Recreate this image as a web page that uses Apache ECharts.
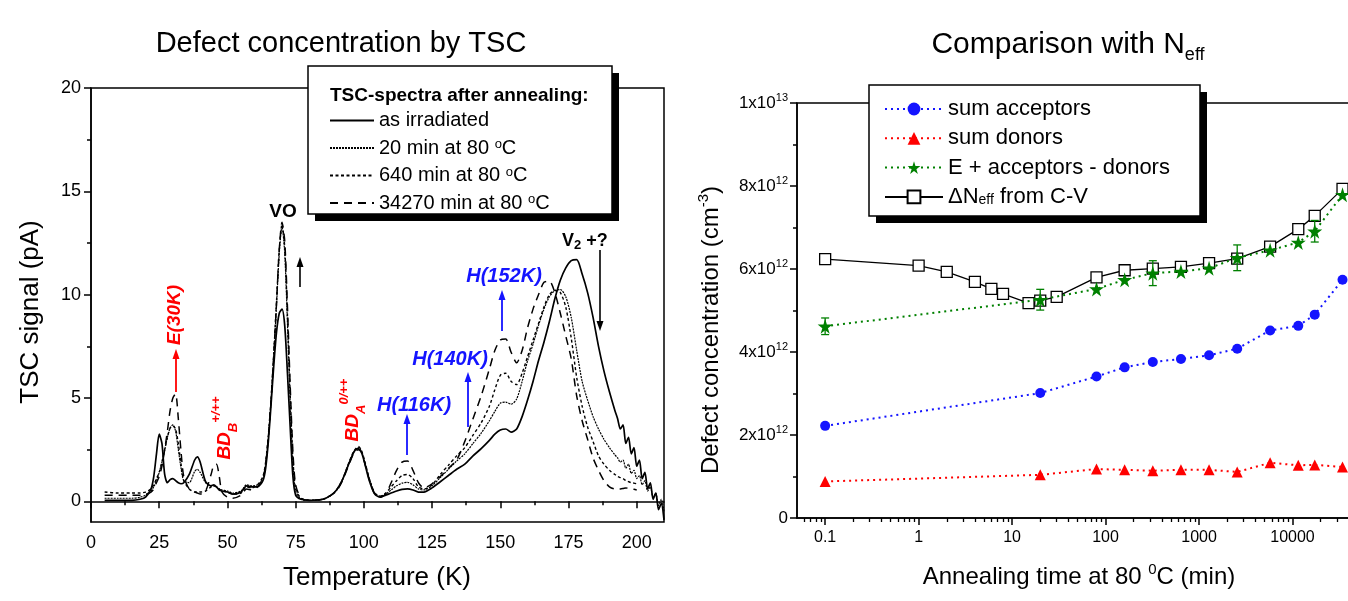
<!DOCTYPE html>
<html><head><meta charset="utf-8">
<script src="https://cdn.jsdelivr.net/npm/echarts@6/dist/echarts.min.js"></script>
<style>html,body{margin:0;padding:0;background:#fff}#c{width:1348px;height:601px}</style>
</head><body><div id="c"></div>
<script>
// ---------- Left chart data: TSC spectra ----------
const temps = [5,10,15,18,20,22,23,24,25,26,27,28,29,30,31,32,33,34,
  36,38,39,40,42,44,45,46,47,48,50,52,55,57,59,61,
  63,64,65,66,67,68,69,70,71,72,73,74,75,77,
  80,85,88,90,92,94,96,97,98,99,100,102,104,106,
  108,110,112,114,116,118,120,122,125,128,131,134,137,140,143,146,
  148,150,152,154,156,158,160,162,164,166,168,170,172,174,176,178,180,182,184,186,188,190,192,
  193,194,195,196,197,198,199,200,201,202,203,204,205,206,207,208,209,210];
const asIrradiated = [0.05,0.05,0.05,0.1,0.2,0.6,1.2,2.3,3.25,2.8,1.3,0.9,1.05,1.1,1.0,0.9,0.85,0.9,
  1.3,2.0,2.15,1.9,0.95,0.75,0.8,0.7,0.55,0.5,0.45,0.35,0.45,0.75,0.7,0.7,
  1.0,1.6,2.9,4.7,6.6,8.2,9.1,9.3,8.5,6.2,3.6,1.2,0.3,0.1,
  0.05,0.1,0.3,0.55,1.0,1.65,2.3,2.5,2.55,2.4,2.0,1.0,0.35,0.2,
  0.3,0.4,0.5,0.58,0.6,0.55,0.45,0.45,0.65,0.95,1.25,1.55,1.8,2.2,2.55,2.95,
  3.25,3.45,3.5,3.35,3.5,4.1,4.9,5.8,6.8,7.7,8.7,9.8,10.7,11.3,11.65,11.7,11.0,10.1,8.9,7.5,6.3,5.3,4.4,
  4.0,3.5,3.7,2.8,3.1,2.3,2.6,1.7,2.0,1.1,1.4,0.6,0.9,0.1,0.4,-0.4,-0.1,-0.9];
const min20 = [0.15,0.15,0.15,0.2,0.3,0.5,0.7,1.0,1.4,1.9,2.5,3.1,3.55,3.7,3.4,2.5,1.6,1.0,
  0.9,1.45,1.55,1.4,0.9,0.75,0.75,0.7,0.6,0.55,0.5,0.4,0.5,0.8,0.75,0.8,
  1.1,1.8,3.1,4.9,7.1,9.5,12.0,13.3,12.0,8.6,4.8,1.8,0.5,0.1,
  0.05,0.1,0.3,0.55,1.0,1.65,2.3,2.5,2.6,2.45,2.05,1.1,0.4,0.25,
  0.35,0.55,0.75,0.88,0.92,0.8,0.6,0.55,0.75,1.15,1.55,1.95,2.3,2.8,3.3,3.9,
  4.35,4.75,4.8,4.7,4.95,5.8,6.8,7.6,8.5,9.3,9.9,10.2,10.25,9.9,8.9,7.3,5.8,4.9,4.1,3.5,3.0,2.6,2.25,
  2.1,1.9,2.0,1.6,1.8,1.35,1.5,1.1,1.25,0.8,1.0,0.5,0.7,0.2,0.4,-0.2,0.1,-0.5];
const min640 = [0.45,0.4,0.4,0.4,0.45,0.6,0.8,1.1,1.4,1.9,2.5,3.1,3.55,3.65,3.5,2.8,1.8,1.0,
  0.6,0.45,0.45,0.45,0.5,0.7,0.75,0.7,0.6,0.5,0.45,0.35,0.4,0.7,0.65,0.8,
  1.2,1.9,3.2,5.0,7.2,9.7,12.2,13.4,12.3,9.0,5.2,2.1,0.6,0.15,
  0.05,0.1,0.3,0.55,1.0,1.7,2.35,2.55,2.65,2.5,2.1,1.1,0.4,0.25,
  0.4,0.7,1.0,1.25,1.3,1.1,0.7,0.6,0.8,1.3,1.75,2.2,2.6,3.2,3.8,4.6,
  5.4,6.1,6.2,5.8,5.65,6.2,7.0,7.8,8.6,9.4,10.0,10.2,10.1,9.4,7.9,6.0,4.6,3.6,2.9,2.2,1.8,1.5,1.3,
  1.2,1.15,1.1,1.0,0.95,0.9,0.88,0.85,null,null,null,null,null,null,null,null,null,null];
const min34270 = [0.3,0.3,0.3,0.3,0.35,0.45,0.6,0.9,1.2,1.7,2.5,3.4,4.4,5.0,5.2,4.0,2.4,1.2,
  0.6,0.45,0.4,0.35,0.5,1.3,1.75,1.8,1.2,0.45,0.2,0.15,0.3,0.6,0.55,0.7,
  1.1,1.8,3.1,4.9,7.1,9.6,12.2,13.5,12.6,9.4,5.6,2.4,0.8,0.15,
  0.05,0.1,0.3,0.5,0.95,1.6,2.25,2.45,2.5,2.4,2.0,1.05,0.35,0.2,
  0.35,0.9,1.5,1.9,1.95,1.5,0.9,0.65,0.85,1.2,1.6,2.0,2.9,4.0,5.1,6.4,
  7.3,7.8,7.85,7.2,6.7,7.3,8.4,9.3,10.0,10.6,10.65,10.1,9.1,8.0,6.9,5.1,3.9,3.0,2.1,1.5,1.0,0.7,0.6,
  0.6,0.6,0.62,0.65,0.63,0.6,0.58,0.55,null,null,null,null,null,null,null,null,null,null];
const tscNames = ['as irradiated','20 min at 80 °C','640 min at 80 °C','34270 min at 80 °C'];
const tempTicks = [0,25,50,75,100,125,150,175,200];
const tempMinorTicks = [12.5,37.5,62.5,87.5,112.5,137.5,162.5,187.5];
const tscTicks = [0,5,10,15,20];
const tscMinorTicks = [2.5,7.5,12.5,17.5];

// ---------- Right chart data (values in units of 1e12 cm^-3) ----------
const neffTimes = [0.1,1,2,4,6,8,15,20,30,80,160,320,640,1280,2560,5760,11520,17280,34270];
const deltaNeff = [6.24,6.08,5.93,5.69,5.52,5.40,5.18,5.24,5.33,5.80,5.97,6.01,6.05,6.14,6.25,6.54,6.96,7.28,7.93];
const tscTimes = [0.1,20,80,160,320,640,1280,2560,5760,11520,17280,34270];
const sumAcceptors = [2.22,3.01,3.41,3.63,3.76,3.83,3.92,4.08,4.52,4.63,4.90,5.74];
const sumDonors = [0.88,1.04,1.18,1.16,1.14,1.16,1.16,1.11,1.33,1.27,1.28,1.23];
const eAccDon = [4.62,5.26,5.52,5.74,5.90,5.94,6.02,6.27,6.45,6.64,6.91,7.79];
const eAccDonErr = [0.2,0.25,0,0,0.3,0,0,0.31,0,0,0.26,0];
const timeTicks = [0.1,1,10,100,1000,10000];
const rightNames = ['sum acceptors','sum donors','E + acceptors - donors','ΔNeff from C-V'];

const timeMinorTicks = [];
[0.01,0.1,1,10,100,1000,10000].forEach(d => { for (let k = 2; k <= 9; k++) { const v = +(d*k).toPrecision(3); if (v > 0.05 && v < 100000) timeMinorTicks.push(v); } });

// ---------- Chart ----------
const FF = "'Liberation Sans', Arial, sans-serif";
const chart = echarts.init(document.getElementById('c'), null, {renderer:'canvas'});
const STAR = 'path://M50,0 L61,35 L98,35 L68,57 L79,91 L50,70 L21,91 L32,57 L2,35 L39,35 Z';
const pairs = (xs, ys) => xs.map((x,i)=>[x, ys[i]]).filter(p => p[1] != null);

function vArrow(x, yTail, yHead, color, lw) {
  const dir = yHead < yTail ? 1 : -1;
  const hl = 10, hw = 3.5;
  return [
    {type:'line', z:100, shape:{x1:x,y1:yTail,x2:x,y2:yHead+dir*hl*0.7}, style:{stroke:color, lineWidth:lw||1.6}},
    {type:'polygon', z:100, shape:{points:[[x,yHead],[x-hw,yHead+dir*hl],[x+hw,yHead+dir*hl]]}, style:{fill:color}}
  ];
}
const black = '#000', red = '#ff0000', blue = '#1414ff', green = '#008000';
const ann = (x, y, text, font, fill, extra) => Object.assign({type:'text', z:100, x, y,
  style:{text, font, fill, align:'center', verticalAlign:'middle'}}, extra||{});

const tscStyles = [
  {type:'solid', width:1.7},
  {type:[2,1], width:1.2},
  {type:[3,2.5], width:1.4},
  {type:[8,6], width:1.5}
];
const tscData = [asIrradiated, min20, min640, min34270];

const series = tscData.map((arr, i) => ({
  name: tscNames[i], type:'line', xAxisIndex:0, yAxisIndex:0, data: pairs(temps, arr),
  showSymbol:false, symbol:'none', smooth:0.25,
  lineStyle:{color:black, width:tscStyles[i].width, type:tscStyles[i].type},
  itemStyle:{color:black}
}));

series.push(
  {name:rightNames[0], type:'line', xAxisIndex:2, yAxisIndex:2, data:pairs(tscTimes, sumAcceptors),
   symbol:'circle', symbolSize:10, z:3, lineStyle:{color:blue, width:2, type:[2,4]}, itemStyle:{color:blue}},
  {name:rightNames[1], type:'line', xAxisIndex:2, yAxisIndex:2, data:pairs(tscTimes, sumDonors),
   symbol:'triangle', symbolSize:11, z:3, lineStyle:{color:red, width:2, type:[2,4]}, itemStyle:{color:red}},
  {name:rightNames[3], type:'line', xAxisIndex:2, yAxisIndex:2, data:pairs(neffTimes, deltaNeff),
   symbol:'rect', symbolSize:11, z:3, lineStyle:{color:black, width:1.3}, itemStyle:{color:'#fff', borderColor:black, borderWidth:1.3}},
  {name:rightNames[2], type:'line', xAxisIndex:2, yAxisIndex:2, data:pairs(tscTimes, eAccDon),
   symbol:STAR, symbolSize:15, z:4, lineStyle:{color:green, width:2, type:[2,4]}, itemStyle:{color:green}},
  {name:'err', type:'custom', xAxisIndex:2, yAxisIndex:2, z:5,
   data: tscTimes.map((t,i)=>[t, eAccDon[i], eAccDonErr[i]]),
   encode:{x:0, y:1},
   renderItem(params, api) {
     const x = api.value(0), y = api.value(1), e = api.value(2);
     if (!e) return null;
     const a = api.coord([x, y+e]), b = api.coord([x, y-e]);
     const st = {stroke:green, lineWidth:1.3};
     return {type:'group', children:[
       {type:'line', shape:{x1:a[0],y1:a[1],x2:b[0],y2:b[1]}, style:st},
       {type:'line', shape:{x1:a[0]-4,y1:a[1],x2:a[0]+4,y2:a[1]}, style:st},
       {type:'line', shape:{x1:b[0]-4,y1:b[1],x2:b[0]+4,y2:b[1]}, style:st}
     ]};
   }}
);

const axLine = {lineStyle:{color:black, width:1.5}};
const option = {
  animation:false,
  textStyle:{fontFamily:FF, color:black},
  grid:[
    {left:91, top:88, width:573, height:434, show:true, borderColor:black, borderWidth:1.5, outerBoundsMode:'none'},
    {left:797, top:103, width:589, height:415, show:true, borderColor:black, borderWidth:1.5, outerBoundsMode:'none'}
  ],
  xAxis:[
    {gridIndex:0, type:'value', position:'bottom', min:0, max:210, axisLine:axLine,
     axisTick:{customValues:tempTicks, length:7, lineStyle:{width:1.5, color:black}},
     axisLabel:{customValues:tempTicks, fontSize:18, color:black, margin:12, fontFamily:FF},
     splitLine:{show:false}},
    {gridIndex:0, type:'value', position:'bottom', min:0, max:210, axisLine:{show:false},
     axisTick:{customValues:tempMinorTicks, length:4, lineStyle:{width:1.5, color:black}},
     axisLabel:{show:false}, splitLine:{show:false}},
    {gridIndex:1, type:'log', position:'bottom', logBase:10, min:0.05, max:100000, axisLine:axLine,
     axisTick:{customValues:timeTicks, length:7, lineStyle:{width:1.5, color:black}},
     axisLabel:{customValues:timeTicks, fontSize:16, color:black, margin:12, fontFamily:FF, formatter:v=>String(v)},
     splitLine:{show:false}},
    {gridIndex:1, type:'log', position:'bottom', logBase:10, min:0.05, max:100000, axisLine:{show:false},
     axisTick:{customValues:timeMinorTicks, length:4, lineStyle:{width:1.3, color:black}},
     axisLabel:{show:false}, splitLine:{show:false}}
  ],
  yAxis:[
    {gridIndex:0, type:'value', min:-1, max:20, position:'left', axisLine:axLine,
     axisTick:{customValues:tscTicks, length:7, lineStyle:{width:1.5, color:black}},
     axisLabel:{customValues:tscTicks, fontSize:18, color:black, margin:10, fontFamily:FF},
     splitLine:{show:false}},
    {gridIndex:0, type:'value', min:-1, max:20, position:'left', axisLine:{show:false},
     axisTick:{customValues:tscMinorTicks, length:4, lineStyle:{width:1.5, color:black}},
     axisLabel:{show:false}, splitLine:{show:false}},
    {gridIndex:1, type:'value', min:0, max:10, interval:2, position:'left', axisLine:axLine,
     axisTick:{length:7, lineStyle:{width:1.5, color:black}},
     minorTick:{show:true, splitNumber:2, length:4, lineStyle:{width:1.5, color:black}},
     axisLabel:{fontSize:17, color:black, margin:9, fontFamily:FF,
       formatter:v => v===0 ? '{m|0}' : (v===10 ? '{m|1x10}{s|13}' : '{m|'+v+'x10}{s|12}'),
       rich:{m:{fontSize:17, lineHeight:22, fontFamily:FF}, s:{fontSize:11, verticalAlign:'top', fontFamily:FF}}},
     splitLine:{show:false}}
  ],
  legend:[
    {data:tscNames, orient:'vertical', left:329, top:110.5, padding:0, itemWidth:44, itemHeight:14, itemGap:7.5,
     selectedMode:false, z:110, itemStyle:{opacity:0},
     textStyle:{fontSize:20, lineHeight:20, color:black, fontFamily:FF,
       rich:{o:{fontSize:13, lineHeight:2, verticalAlign:'top', fontFamily:FF}}},
     formatter:n => n.replace('°C','{o|o}C')},
    {data:rightNames, orient:'vertical', left:884, top:98, padding:0, itemWidth:58, itemHeight:16, itemGap:7.3,
     selectedMode:false, z:110,
     textStyle:{fontSize:22, lineHeight:20, color:black, fontFamily:FF,
       rich:{t:{fontSize:22, lineHeight:20, fontFamily:FF}, s:{fontSize:14, lineHeight:1, verticalAlign:'bottom', fontFamily:FF}}},
     formatter:n => n === 'ΔNeff from C-V' ? '{t|ΔN}{s|eff}{t| from C-V}' : n}
  ],
  series,
  graphic:[].concat(
    [
      ann(341, 44, 'Defect concentration by TSC', "29px "+FF, black),
      {type:'text', z:100, x:1068, y:45, style:{text:'{m|Comparison with N}{s|eff}', align:'center', verticalAlign:'middle', fill:black,
        rich:{m:{fontSize:30, lineHeight:38, fontFamily:FF, fill:black}, s:{fontSize:18, verticalAlign:'bottom', fontFamily:FF, fill:black}}}},
      ann(31, 312, 'TSC signal (pA)', "26px "+FF, black, {rotation:Math.PI/2}),
      ann(377, 578, 'Temperature (K)', "26px "+FF, black),
      {type:'text', z:100, x:711, y:330, rotation:Math.PI/2, style:{text:'{m|Defect concentration (cm}{s|-3}{m|)}', align:'center', verticalAlign:'middle', fill:black,
        rich:{m:{fontSize:24, lineHeight:30, fontFamily:FF, fill:black}, s:{fontSize:15, verticalAlign:'top', fontFamily:FF, fill:black}}}},
      {type:'text', z:100, x:1079, y:577, style:{text:'{m|Annealing time at 80 }{s|0}{m|C (min)}', align:'center', verticalAlign:'middle', fill:black,
        rich:{m:{fontSize:24, lineHeight:30, fontFamily:FF, fill:black}, s:{fontSize:15, verticalAlign:'top', fontFamily:FF, fill:black}}}},
      // left legend box
      {type:'rect', z:90, shape:{x:315, y:73, width:304, height:148}, style:{fill:black}},
      {type:'rect', z:91, shape:{x:308, y:66, width:304, height:148}, style:{fill:'#fff', stroke:black, lineWidth:1.5}},
      {type:'text', z:100, x:330, y:96, style:{text:'TSC-spectra after annealing:', font:"bold 19px "+FF, fill:black, align:'left', verticalAlign:'middle'}},
      // right legend box
      {type:'rect', z:90, shape:{x:876, y:92, width:331, height:131}, style:{fill:black}},
      {type:'rect', z:91, shape:{x:869, y:85, width:331, height:131}, style:{fill:'#fff', stroke:black, lineWidth:1.5}},
      // annotations
      ann(283, 212, 'VO', "bold 19px "+FF, black),
      {type:'text', z:100, x:562, y:241, style:{text:'{m|V}{s|2}{m| +?}', align:'left', verticalAlign:'middle', fill:black,
        rich:{m:{fontSize:18, fontWeight:'bold', lineHeight:22, fontFamily:FF, fill:black}, s:{fontSize:13, fontWeight:'bold', verticalAlign:'bottom', fontFamily:FF, fill:black}}}},
      {type:'text', z:100, x:175, y:315, rotation:Math.PI/2, style:{text:'E(30K)', font:"italic bold 19px "+FF, fill:red, align:'center', verticalAlign:'middle'}},
      {type:'text', z:100, x:225, y:428, rotation:Math.PI/2, style:{text:'{m|BD}{s|B}{p|+/++}', align:'center', verticalAlign:'middle', fill:red,
        rich:{m:{fontSize:19, fontWeight:'bold', fontStyle:'italic', lineHeight:30, fontFamily:FF, fill:red},
              s:{fontSize:13, fontWeight:'bold', fontStyle:'italic', verticalAlign:'bottom', fontFamily:FF, fill:red},
              p:{fontSize:13, fontWeight:'bold', fontStyle:'italic', verticalAlign:'top', fontFamily:FF, fill:red}}}},
      {type:'text', z:100, x:353, y:410, rotation:Math.PI/2, style:{text:'{m|BD}{s|A}{p|0/++}', align:'center', verticalAlign:'middle', fill:red,
        rich:{m:{fontSize:19, fontWeight:'bold', fontStyle:'italic', lineHeight:30, fontFamily:FF, fill:red},
              s:{fontSize:13, fontWeight:'bold', fontStyle:'italic', verticalAlign:'bottom', fontFamily:FF, fill:red},
              p:{fontSize:13, fontWeight:'bold', fontStyle:'italic', verticalAlign:'top', fontFamily:FF, fill:red}}}},
      ann(414, 405, 'H(116K)', "italic bold 20px "+FF, blue),
      ann(450, 359, 'H(140K)', "italic bold 20px "+FF, blue),
      ann(504, 276, 'H(152K)', "italic bold 20px "+FF, blue)
    ],
    vArrow(300, 287, 257, black, 1.6),
    vArrow(600, 250, 331, black, 1.6),
    vArrow(176, 392, 349, red, 1.8),
    vArrow(407, 455, 414, blue, 1.8),
    vArrow(468, 427, 372, blue, 1.8),
    vArrow(502, 331, 290, blue, 1.8)
  )
};
chart.setOption(option);
</script>
</body></html>
